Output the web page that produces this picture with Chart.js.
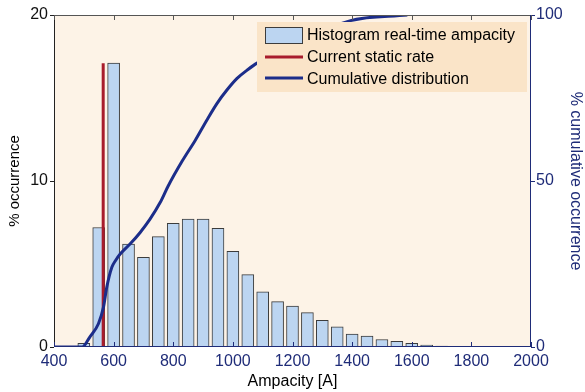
<!DOCTYPE html>
<html>
<head>
<meta charset="utf-8">
<script src="https://cdn.jsdelivr.net/npm/chart.js@4.4.1/dist/chart.umd.min.js"></script>
<style>
html, body { margin: 0; padding: 0; background: #fff; }
</style>
</head>
<body>
<canvas id="myChart" width="585" height="392"></canvas>
<script>
// histogram bins (A) and % occurrence
const binCenters = [500, 550, 600, 650, 700, 750, 800, 850, 900, 950, 1000, 1050, 1100, 1150, 1200,
    1250, 1300, 1350, 1400, 1450, 1500, 1550, 1600, 1650, 1700, 1750, 1800];
const occurrence = [0.22, 7.2, 17.1, 6.2, 5.4, 6.65, 7.45, 7.7, 7.7, 7.15, 5.76, 4.36, 3.33, 2.73, 2.47,
    2.07, 1.6, 1.22, 0.78, 0.66, 0.45, 0.34, 0.22, 0.12, 0.06, 0.03, 0.03];

// current static rate (vertical line)
const staticRateX = [565, 565];
const staticRateY = [0, 17.1];

// cumulative distribution, % (right axis)
const cumX = [400, 495, 520, 549, 566, 577, 594, 606, 622, 655, 689, 722, 756, 783, 830, 874, 913, 947, 980, 1014, 1048, 1081, 1395, 1585];
const cumY = [0, 0, 3, 7, 12, 18, 24, 26, 28, 31, 34.5, 38.5, 43.5, 48.5, 56, 62.3, 68.4, 73.4, 77.4, 80.9, 83.4, 85.5, 98.3, 100];

const xTickValues = [400, 600, 800, 1000, 1200, 1400, 1600, 1800, 2000];
const leftTickValues = [0, 10, 20];
const rightTickValues = [0, 50, 100];

const navy = '#1f2c78';

// plot background + frame + inward x ticks
const framePlugin = {
    id: 'frame',
    beforeDatasetsDraw(chart) {
        const a = chart.chartArea, c = chart.ctx;
        c.save();
        c.fillStyle = '#fdf3e7';
        c.fillRect(a.left, a.top, a.right - a.left, a.bottom - a.top);
        c.restore();
    },
    afterDatasetsDraw(chart) {
        const a = chart.chartArea, c = chart.ctx, xs = chart.scales.x;
        c.save();
        c.lineWidth = 1;
        c.strokeStyle = '#555';
        c.beginPath(); c.moveTo(a.left, a.top + 0.5); c.lineTo(a.right, a.top + 0.5); c.stroke();
        c.strokeStyle = '#222';
        c.beginPath(); c.moveTo(a.left + 0.5, a.top); c.lineTo(a.left + 0.5, a.bottom); c.stroke();
        c.strokeStyle = navy;
        c.beginPath(); c.moveTo(a.left, a.bottom - 0.5); c.lineTo(a.right, a.bottom - 0.5); c.stroke();
        c.beginPath(); c.moveTo(a.right - 0.5, a.top); c.lineTo(a.right - 0.5, a.bottom); c.stroke();
        xTickValues.forEach(v => {
            const px = Math.round(xs.getPixelForValue(v)) + 0.5;
            c.strokeStyle = '#555';
            c.beginPath(); c.moveTo(px, a.top); c.lineTo(px, a.top + 5); c.stroke();
            c.strokeStyle = navy;
            c.beginPath(); c.moveTo(px, a.bottom); c.lineTo(px, a.bottom - 5); c.stroke();
        });
        c.restore();
    },
    afterDraw(chart) {
        // legend inside the plot, top right
        const a = chart.chartArea, c = chart.ctx;
        const ds = chart.data.datasets;
        const lx = a.right - 274, ly = a.top + 7;
        c.save();
        c.fillStyle = '#fae4c8';
        c.fillRect(lx, ly, 270, 70);
        c.font = '16px "Liberation Sans", Arial, sans-serif';
        c.textBaseline = 'middle';
        c.fillStyle = ds[0].backgroundColor;
        c.fillRect(lx + 8, ly + 5, 37, 16);
        c.strokeStyle = ds[0].borderColor;
        c.lineWidth = 1;
        c.strokeRect(lx + 8.5, ly + 5.5, 37, 16);
        c.lineWidth = 3;
        c.strokeStyle = ds[1].borderColor;
        c.beginPath(); c.moveTo(lx + 8, ly + 35); c.lineTo(lx + 46, ly + 35); c.stroke();
        c.strokeStyle = ds[2].borderColor;
        c.beginPath(); c.moveTo(lx + 8, ly + 56); c.lineTo(lx + 46, ly + 56); c.stroke();
        c.fillStyle = '#000';
        c.fillText(ds[0].label, lx + 50, ly + 14);
        c.fillText(ds[1].label, lx + 50, ly + 36);
        c.fillText(ds[2].label, lx + 50, ly + 58);
        c.restore();
    }
};

const ctx = document.getElementById('myChart');

new Chart(ctx, {
    type: 'bar',
    data: {
        datasets: [
            {
                type: 'bar',
                label: 'Histogram real-time ampacity',
                data: binCenters.map((x, i) => ({ x: x, y: occurrence[i] })),
                backgroundColor: '#bcd5f1',
                borderColor: '#3c3c3c',
                borderWidth: 1,
                barThickness: 12,
                yAxisID: 'y',
                order: 3
            },
            {
                type: 'line',
                label: 'Current static rate',
                data: staticRateX.map((x, i) => ({ x: x, y: staticRateY[i] })),
                borderColor: '#a81c2c',
                borderWidth: 3,
                pointRadius: 0,
                yAxisID: 'y',
                order: 2
            },
            {
                type: 'line',
                label: 'Cumulative distribution',
                data: cumX.map((x, i) => ({ x: x, y: cumY[i] })),
                borderColor: '#1c2d8a',
                borderWidth: 3,
                pointRadius: 0,
                cubicInterpolationMode: 'monotone',
                yAxisID: 'y2',
                order: 1
            }
        ]
    },
    options: {
        responsive: false,
        animation: false,
        devicePixelRatio: 1,
        layout: { padding: { top: 15, left: 0, right: 0, bottom: 0 } },
        plugins: { legend: { display: false }, tooltip: { enabled: false } },
        scales: {
            x: {
                type: 'linear',
                min: 400,
                max: 2000,
                offset: false,
                afterBuildTicks: s => { s.ticks = xTickValues.map(v => ({ value: v })); },
                afterFit: s => { s.height = 45; },
                ticks: { color: navy, font: { size: 16, family: '"Liberation Sans", Arial' }, padding: 5, maxRotation: 0,
                    callback: v => String(v) },
                grid: { drawOnChartArea: false, drawTicks: false, offset: false },
                border: { display: false },
                title: { display: true, text: 'Ampacity [A]', color: '#000', font: { size: 16, family: '"Liberation Sans", Arial' }, padding: { top: 0, bottom: 1 } }
            },
            y: {
                position: 'left',
                min: 0,
                max: 20,
                afterBuildTicks: s => { s.ticks = leftTickValues.map(v => ({ value: v })); },
                afterFit: s => { s.width = 54; },
                ticks: { color: '#111', font: { size: 16, family: '"Liberation Sans", Arial' }, padding: 2 },
                grid: { drawOnChartArea: false, drawTicks: true, tickLength: 4, color: '#222' },
                border: { display: false },
                title: { display: true, text: '% occurrence', color: '#000', font: { size: 15, family: '"Liberation Sans", Arial' }, padding: { top: 6, bottom: 0 } }
            },
            y2: {
                position: 'right',
                min: 0,
                max: 100,
                afterBuildTicks: s => { s.ticks = rightTickValues.map(v => ({ value: v })); },
                afterFit: s => { s.width = 54; },
                ticks: { color: navy, font: { size: 16, family: '"Liberation Sans", Arial' }, padding: 1 },
                grid: { drawOnChartArea: false, drawTicks: true, tickLength: 4, color: navy },
                border: { display: false },
                title: { display: true, text: '% cumulative occurrence', color: navy, font: { size: 16, family: '"Liberation Sans", Arial' }, padding: { top: 0, bottom: 0 } }
            }
        }
    },
    plugins: [framePlugin]
});
</script>
</body>
</html>
